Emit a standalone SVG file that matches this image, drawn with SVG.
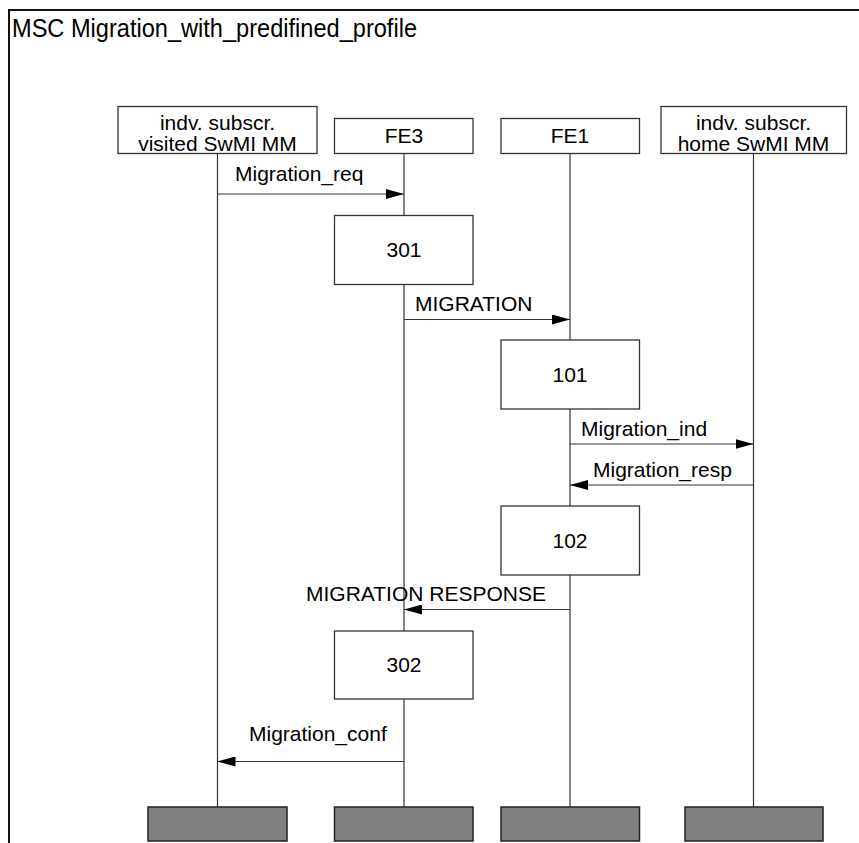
<svg xmlns="http://www.w3.org/2000/svg" width="859" height="843" viewBox="0 0 859 843">
<defs>
<marker id="ah" markerWidth="18" markerHeight="10" refX="18" refY="5" orient="auto" markerUnits="userSpaceOnUse">
<path d="M0,0 L18,5 L0,10 Z" fill="#000"/>
</marker>
<style>
text{font-family:"Liberation Sans",Arial,sans-serif;fill:#000}
.t{font-size:21px}
.s{font-size:20px}
.c{text-anchor:middle}
.box{fill:#fff;stroke:#333;stroke-width:1.3}
.end{fill:#808080;stroke:#222;stroke-width:1.5}
.life{stroke:#333;stroke-width:1.2;fill:none}
.msg{stroke:#333;stroke-width:1.2;fill:none;marker-end:url(#ah)}
</style>
</defs>
<rect width="859" height="843" fill="#fff"/>
<path d="M9,850 V10 H870" fill="none" stroke="#111" stroke-width="2"/>
<text x="12" y="37" style="font-size:25px" textLength="405" lengthAdjust="spacingAndGlyphs">MSC Migration_with_predifined_profile</text>

<g id="lifelines">
<line class="life" x1="217.5" y1="153" x2="217.5" y2="807"/>
<line class="life" x1="404" y1="153" x2="404" y2="807"/>
<line class="life" x1="570" y1="153" x2="570" y2="807"/>
<line class="life" x1="753.5" y1="153" x2="753.5" y2="807"/>
</g>

<g id="inst1">
<rect class="box" x="118" y="106.5" width="199" height="47"/>
<text class="t c" x="217.5" y="130">indv. subscr.</text>
<text class="t c" x="217.5" y="151">visited SwMI MM</text>
</g>
<g id="fe3">
<rect class="box" x="334.5" y="118.5" width="138.5" height="35"/>
<text class="t c" x="404" y="143">FE3</text>
</g>
<g id="fe1">
<rect class="box" x="501" y="118.5" width="138.5" height="35"/>
<text class="t c" x="570" y="143">FE1</text>
</g>
<g id="inst4">
<rect class="box" x="661" y="106.5" width="185.5" height="47"/>
<text class="t c" x="753.5" y="130">indv. subscr.</text>
<text class="t c" x="753.5" y="151">home SwMI MM</text>
</g>

<g id="a301">
<rect class="box" x="334.5" y="215.5" width="138.5" height="69"/>
<text class="t c" x="404" y="257">301</text>
</g>
<g id="a101">
<rect class="box" x="501" y="340" width="138.5" height="69"/>
<text class="t c" x="570" y="382">101</text>
</g>
<g id="a102">
<rect class="box" x="501" y="506" width="138.5" height="69"/>
<text class="t c" x="570" y="548">102</text>
</g>
<g id="a302">
<rect class="box" x="334.5" y="631" width="138.5" height="68"/>
<text class="t c" x="404" y="672">302</text>
</g>

<g id="connectors">
<line class="msg" x1="217.5" y1="194" x2="404" y2="194"/>
<text class="t" x="235" y="181">Migration_req</text>
<line class="msg" x1="404" y1="319.5" x2="570" y2="319.5"/>
<text class="t" x="415" y="311">MIGRATION</text>
<line class="msg" x1="570" y1="444" x2="753.5" y2="444"/>
<text class="t" x="581" y="436">Migration_ind</text>
<line class="msg" x1="753.5" y1="485" x2="570" y2="485"/>
<text class="t" x="593" y="477">Migration_resp</text>
<line class="msg" x1="570" y1="609.5" x2="404" y2="609.5"/>
<text class="t" x="306" y="601">MIGRATION RESPONSE</text>
<line class="msg" x1="404" y1="761.5" x2="217.5" y2="761.5"/>
<text class="t" x="249" y="741">Migration_conf</text>
</g>

<g id="ends">
<rect class="end" x="148" y="807" width="139" height="34"/>
<rect class="end" x="334.5" y="807" width="138.5" height="34"/>
<rect class="end" x="501" y="807" width="138.5" height="34"/>
<rect class="end" x="685" y="807" width="138" height="34"/>
</g>
</svg>
